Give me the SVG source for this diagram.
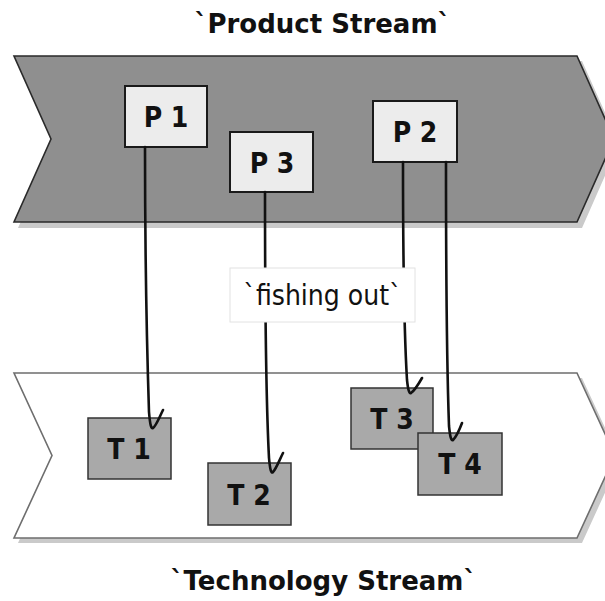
<svg xmlns="http://www.w3.org/2000/svg" width="605" height="601" viewBox="0 0 605 601">
  <style>
    .title { font-family: "DejaVu Sans", "Liberation Sans", sans-serif; font-weight: bold; font-size: 26px; fill: #111; text-anchor: middle; }
    .lbl { font-family: "DejaVu Sans Condensed", "DejaVu Sans", sans-serif; font-weight: bold; font-size: 28px; fill: #111; text-anchor: middle; }
    .pbox { fill: #ececec; stroke: #1a1a1a; stroke-width: 2; }
    .tbox { fill: #a9a9a9; stroke: #333; stroke-width: 1.5; }
    .hook { fill: none; stroke: #111; stroke-width: 2.6; stroke-linecap: round; stroke-linejoin: round; }
    .shadow { fill: #cacaca; }
  </style>

  <rect width="605" height="601" fill="#ffffff"/>

  <!-- Stream titles -->
  <text class="title" x="322.5" y="33">`Product Stream`</text>
  <text class="title" x="323.5" y="590">`Technology Stream`</text>

  <!-- Product stream chevron -->
  <g id="product-stream">
    <polygon class="shadow" points="18,61 582,61 619,144 582,228 18,228 55,144"/>
    <polygon points="14,56 577,56 614,139 577,222 14,222 51,139" fill="#8f8f8f" stroke="#2a2a2a" stroke-width="1.6"/>
  </g>

  <!-- Technology stream chevron -->
  <g id="technology-stream">
    <polygon class="shadow" points="18,378 582,378 620,460 582,543 18,543 56,460"/>
    <polygon points="14,373 577,373 615,455.5 577,538 14,538 52,455.5" fill="#ffffff" stroke="#6e6e6e" stroke-width="1.6"/>
  </g>

  <!-- Product nodes -->
  <g id="P1">
    <rect class="pbox" x="125" y="86" width="82" height="61"/>
    <text class="lbl" x="166" y="127">P 1</text>
  </g>
  <g id="P3">
    <rect class="pbox" x="230" y="132" width="83" height="60"/>
    <text class="lbl" x="272" y="173">P 3</text>
  </g>
  <g id="P2">
    <rect class="pbox" x="373" y="101" width="84" height="61"/>
    <text class="lbl" x="415" y="142">P 2</text>
  </g>

  <!-- Technology nodes -->
  <g id="T1">
    <rect class="tbox" x="88" y="418" width="83" height="61"/>
    <text class="lbl" x="129" y="459">T 1</text>
  </g>
  <g id="T2">
    <rect class="tbox" x="208" y="463" width="83" height="62"/>
    <text class="lbl" x="249" y="505">T 2</text>
  </g>
  <g id="T3">
    <rect class="tbox" x="351" y="388" width="82" height="61"/>
    <text class="lbl" x="392" y="429">T 3</text>
  </g>
  <g id="T4">
    <rect class="tbox" x="418" y="433" width="84" height="62"/>
    <text class="lbl" x="460" y="474">T 4</text>
  </g>

  <!-- Hooked connectors: product items fished out of the technology stream -->
  <g id="connectors">
    <path class="hook" d="M145,147 C145,260 147,350 149,412 C150,424 151,429 153,428 C156,426 159,418 163,410"/>
    <path class="hook" d="M265,192 C265,300 266,400 269,458 C270,469 271,474 273,472 C276,469 279,461 283,453"/>
    <path class="hook" d="M403,162 C403,260 404,330 407,380 C408,389 409,394 411,393 C414,391 418,385 422,378"/>
    <path class="hook" d="M446,162 C446,280 447,370 449,426 C450,436 451,441 453,440 C456,437 459,431 462,423"/>
  </g>

  <!-- Connector label -->
  <g id="fishing-out">
    <rect x="230" y="268" width="185" height="54" fill="#ffffff" stroke="#e2e2e2" stroke-width="1"/>
    <text x="322.5" y="305" font-family="DejaVu Sans Condensed, DejaVu Sans, sans-serif" font-size="28" fill="#111" text-anchor="middle">`fishing out`</text>
  </g>
</svg>
